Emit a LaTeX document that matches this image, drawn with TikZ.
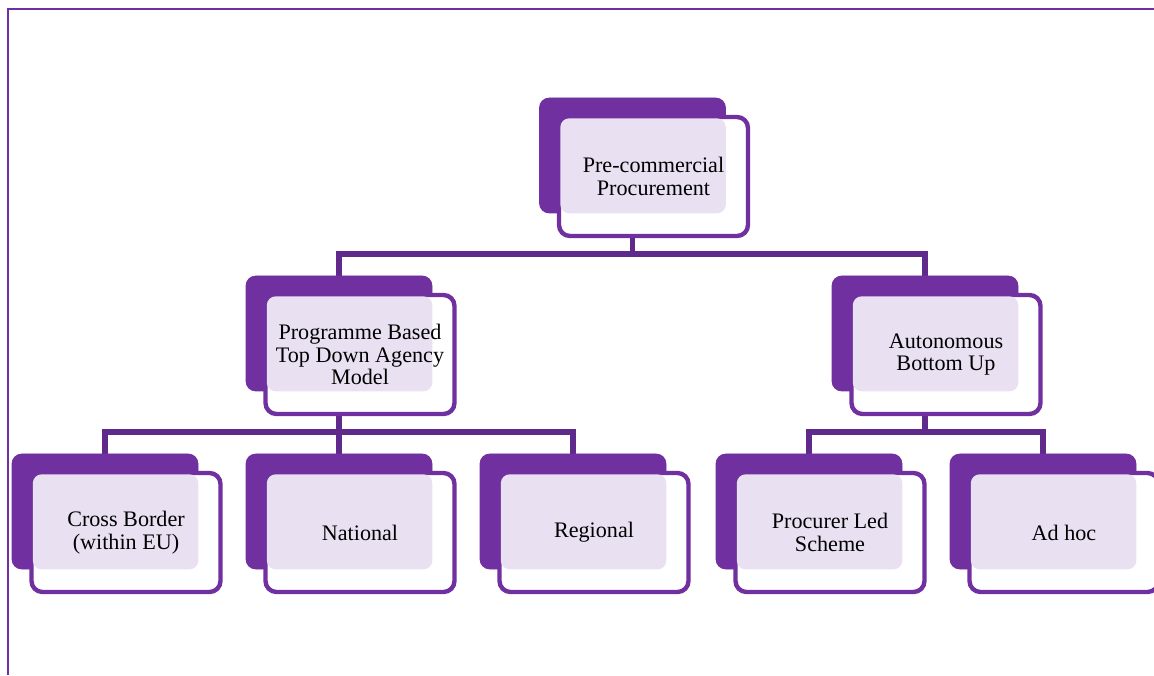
\documentclass[tikz,border=0pt]{standalone}
\usepackage{fontspec}
\setmainfont{Liberation Serif}
\definecolor{boxpurple}{HTML}{7030A0}
\definecolor{linkpurple}{HTML}{602A8C}
\definecolor{shadelav}{HTML}{E9E0F2}
\tikzset{
  frame/.style={line width=1.6pt, draw=boxpurple},
  link/.style={line width=2.9pt, draw=linkpurple},
  backbox/.style={fill=boxpurple, rounded corners=0.2cm, minimum width=3.72cm, minimum height=2.3cm, inner sep=0pt},
  frontbox/.style={fill=white, draw=boxpurple, line width=2.5pt, rounded corners=0.22cm, minimum width=3.78cm, minimum height=2.38cm, inner sep=0pt},
  overlap/.style={fill=shadelav, rounded corners=0.18cm},
  boxlabel/.style={align=center, font=\fontsize{12.6}{12.8}\selectfont, text=black},
}

\begin{document}
\begin{tikzpicture}
\useasboundingbox (0,0) rectangle (23.08,13.5);
\draw[frame] (0.16,0) -- (0.16,13.32) -- (23.08,13.32);
\coordinate (busA) at (0,8.42);
\coordinate (busB) at (0,4.86);
\node[backbox] (pcpB) at (12.65,10.39) {};
\node[backbox] (progB) at (6.78,6.83) {};
\node[backbox] (autoB) at (18.50,6.83) {};
\node[backbox] (crossB) at (2.10,3.27) {};
\node[backbox] (natB) at (6.78,3.27) {};
\node[backbox] (regB) at (11.46,3.27) {};
\node[backbox] (procB) at (16.18,3.27) {};
\node[backbox] (adhocB) at (20.86,3.27) {};
\draw[link] (pcpB.south) -- (pcpB.south |- busA) -| (progB.north);
\draw[link] (pcpB.south |- busA) -| (autoB.north);
\draw[link] (progB.south) -- (progB.south |- busB) -| (crossB.north);
\draw[link] (progB.south |- busB) -| (regB.north);
\draw[link] (progB.south |- busB) -- (natB.north);
\draw[link] (autoB.south) -- (autoB.south |- busB) -| (procB.north);
\draw[link] (autoB.south |- busB) -| (adhocB.north);
\fill[boxpurple, rounded corners=0.2cm] (pcpB.south west) rectangle (pcpB.north east);
\fill[boxpurple, rounded corners=0.2cm] (progB.south west) rectangle (progB.north east);
\fill[boxpurple, rounded corners=0.2cm] (autoB.south west) rectangle (autoB.north east);
\fill[boxpurple, rounded corners=0.2cm] (crossB.south west) rectangle (crossB.north east);
\fill[boxpurple, rounded corners=0.2cm] (natB.south west) rectangle (natB.north east);
\fill[boxpurple, rounded corners=0.2cm] (regB.south west) rectangle (regB.north east);
\fill[boxpurple, rounded corners=0.2cm] (procB.south west) rectangle (procB.north east);
\fill[boxpurple, rounded corners=0.2cm] (adhocB.south west) rectangle (adhocB.north east);
\node[frontbox] (pcpF) at (13.07,9.97) {};
\node[frontbox] (progF) at (7.20,6.41) {};
\node[frontbox] (autoF) at (18.92,6.41) {};
\node[frontbox] (crossF) at (2.52,2.85) {};
\node[frontbox] (natF) at (7.20,2.85) {};
\node[frontbox] (regF) at (11.88,2.85) {};
\node[frontbox] (procF) at (16.60,2.85) {};
\node[frontbox] (adhocF) at (21.28,2.85) {};
\fill[overlap] ([shift={(0.07,-0.07)}]pcpF.north west) rectangle (pcpB.south east);
\fill[overlap] ([shift={(0.07,-0.07)}]progF.north west) rectangle (progB.south east);
\fill[overlap] ([shift={(0.07,-0.07)}]autoF.north west) rectangle (autoB.south east);
\fill[overlap] ([shift={(0.07,-0.07)}]crossF.north west) rectangle (crossB.south east);
\fill[overlap] ([shift={(0.07,-0.07)}]natF.north west) rectangle (natB.south east);
\fill[overlap] ([shift={(0.07,-0.07)}]regF.north west) rectangle (regB.south east);
\fill[overlap] ([shift={(0.07,-0.07)}]procF.north west) rectangle (procB.south east);
\fill[overlap] ([shift={(0.07,-0.07)}]adhocF.north west) rectangle (adhocB.south east);
\node[boxlabel] at (pcpF) {Pre-commercial\\Procurement};
\node[boxlabel] at (progF) {Programme Based\\Top Down Agency\\Model};
\node[boxlabel] at (autoF) {Autonomous\\Bottom Up};
\node[boxlabel] at (crossF) {Cross Border\\(within EU)};
\node[boxlabel] at (natF) {National};
\node[boxlabel] at (regF) {Regional};
\node[boxlabel] at (procF) {Procurer Led\\Scheme};
\node[boxlabel] at (adhocF) {Ad hoc};
\end{tikzpicture}
\end{document}
